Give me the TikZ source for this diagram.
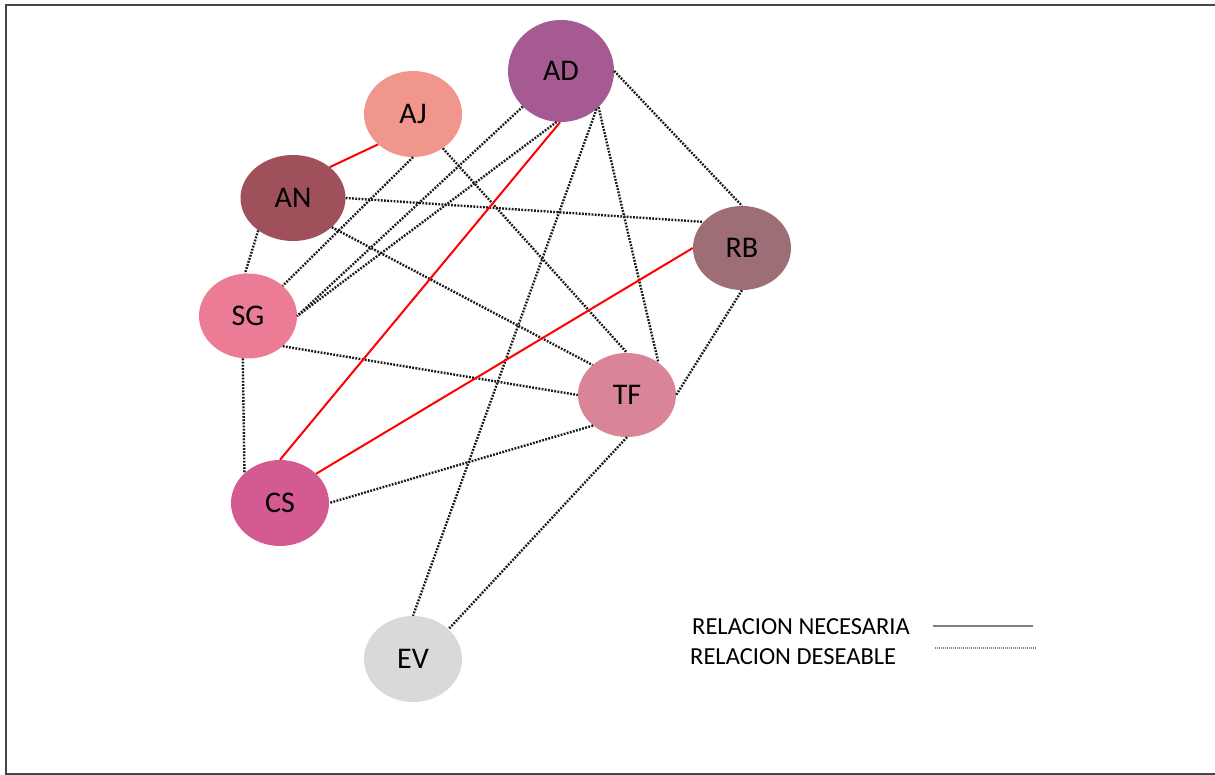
\documentclass[tikz,border=0pt]{standalone}
\usepackage{fontspec}
\setmainfont{Carlito}
\usetikzlibrary{shapes.geometric}
\definecolor{cAD}{RGB}{166,90,146}
\definecolor{cAJ}{RGB}{240,150,140}
\definecolor{cAN}{RGB}{160,80,90}
\definecolor{cRB}{RGB}{158,110,118}
\definecolor{cSG}{RGB}{236,124,150}
\definecolor{cTF}{RGB}{218,132,152}
\definecolor{cCS}{RGB}{212,90,146}
\definecolor{cEV}{RGB}{217,217,217}
\definecolor{frame}{RGB}{70,70,70}
\tikzset{
  actor/.style={ellipse, inner sep=0pt, minimum width=98pt, minimum height=85pt, font=\fontsize{30}{34}\selectfont, text=black},
  need/.style={draw=red, line width=2pt},
  want/.style={draw=black!90, line width=2.4pt, dash pattern=on 1.8pt off 1.4pt},
  legtext/.style={anchor=west, inner sep=0pt, font=\fontsize{24.5}{28}\selectfont, text=black},
}
\begin{document}
\begin{tikzpicture}[x=1pt,y=-1pt]
\useasboundingbox (0,0) rectangle (1215,775);
\draw[frame, line width=2pt] (1216,5) -- (6,5) -- (6,774) -- (1216,774);

\node[actor, fill=cAD, minimum width=106pt, minimum height=102pt] (AD) at (561,71) {AD};
\node[actor, fill=cAJ, minimum height=86pt] (AJ) at (413,114) {AJ};
\node[actor, fill=cAN, minimum width=105pt, minimum height=86pt] (AN) at (293,198) {AN};
\node[actor, fill=cRB, minimum height=84pt] (RB) at (742,248) {RB};
\node[actor, fill=cSG, minimum height=85pt] (SG) at (248,316) {SG};
\node[actor, fill=cTF, minimum height=84pt] (TF) at (627,395) {TF};
\node[actor, fill=cCS, minimum height=86pt] (CS) at (280,503) {CS};
\node[actor, fill=cEV, minimum height=86pt] (EV) at (413,659) {EV};

% desirable relations
\draw[want] (AD.0) -- (RB.90);
\draw[want] (AD.-44) -- (TF.46);
\draw[want] (AD.-47) -- (EV.90);
\draw[want] (AD.223) -- (SG.0);
\draw[want] (AD.-95) -- (SG.0);
\draw[want] (AJ.-90) -- (SG.41);
\draw[want] (AJ.-49) -- (TF.90);
\draw[want] (AN.0) -- (RB.146);
\draw[want] (AN.-37) -- (TF.139);
\draw[want] (AN.223) -- (SG.94);
\draw[want] (SG.-41) -- (TF.180);
\draw[want] (SG.263) -- (CS.140);
\draw[want] (RB.270) -- (TF.0);
\draw[want] (TF.222) -- (CS.0);
\draw[want] (TF.270) -- (EV.40);

% necessary relations
\draw[need] (AJ.221) -- (AN.40);
\draw[need] (AD.-91) -- (CS.90);
\draw[need] (RB.180) -- (CS.39);

% legend
\node[legtext] (l1) at (692,627) {RELACION NECESARIA};
\node[legtext] (l2) at (690,657) {RELACION DESEABLE};
\coordinate (s1) at (933,626);
\coordinate (e1) at (1033,626);
\coordinate (s2) at (935,648);
\coordinate (e2) at (1036,648);
\draw[gray, line width=1.2pt] (s1) -- (e1);
\draw[gray, line width=1.2pt, dash pattern=on 1pt off 1pt] (s2) -- (e2);
\end{tikzpicture}
\end{document}
